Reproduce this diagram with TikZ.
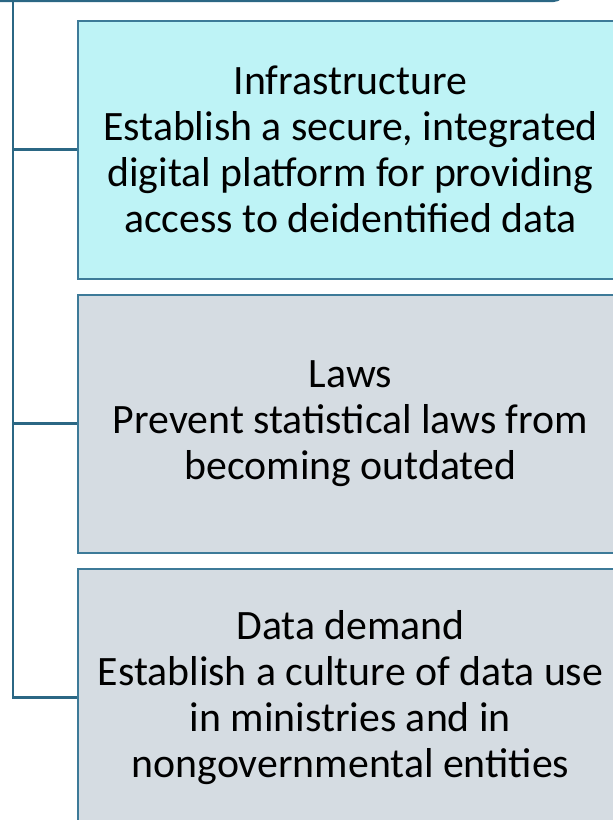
\documentclass[tikz,border=0pt]{standalone}
\usepackage{fontspec}
\setmainfont{Carlito}
\usetikzlibrary{positioning}
\definecolor{linkblue}{HTML}{2B6784}
\definecolor{edgeblue}{HTML}{3D7A98}
\definecolor{infrafill}{HTML}{BEF3F6}
\definecolor{plainfill}{HTML}{D5DCE2}
\begin{document}
\begin{tikzpicture}[x=1pt, y=-1pt,
    goal/.style={draw=edgeblue, line width=2pt, rectangle, minimum width=545pt,
      minimum height=258pt, anchor=west, align=center, inner sep=0pt,
      font=\fontsize{41.8}{46.2}\selectfont},
    link/.style={draw=linkblue, line width=2.4pt}]

\useasboundingbox (0,0) rectangle (613,820);

\node[draw=linkblue, line width=3pt, rounded corners=10pt, minimum width=600pt,
  minimum height=40pt, anchor=south east, inner sep=0pt] (top) at (565,2) {};

\node[goal, fill=infrafill] (infra) at (77,149.5)
  {Infrastructure\\Establish a secure, integrated\\digital platform for providing\\access to deidentified data};
\node[goal, fill=plainfill, below=14pt of infra.south west, anchor=north west] (laws)
  {Laws\\Prevent statistical laws from\\becoming outdated};
\node[goal, fill=plainfill, below=14pt of laws.south west, anchor=north west] (demand)
  {Data demand\\Establish a culture of data use\\in ministries and in\\nongovernmental entities};

\coordinate (spine) at (13,0);

\draw[link] (top.south -| spine) |- (demand.west);
\draw[link] (spine |- infra.west) -- (infra.west);
\draw[link] (spine |- laws.west) -- (laws.west);

\end{tikzpicture}
\end{document}
